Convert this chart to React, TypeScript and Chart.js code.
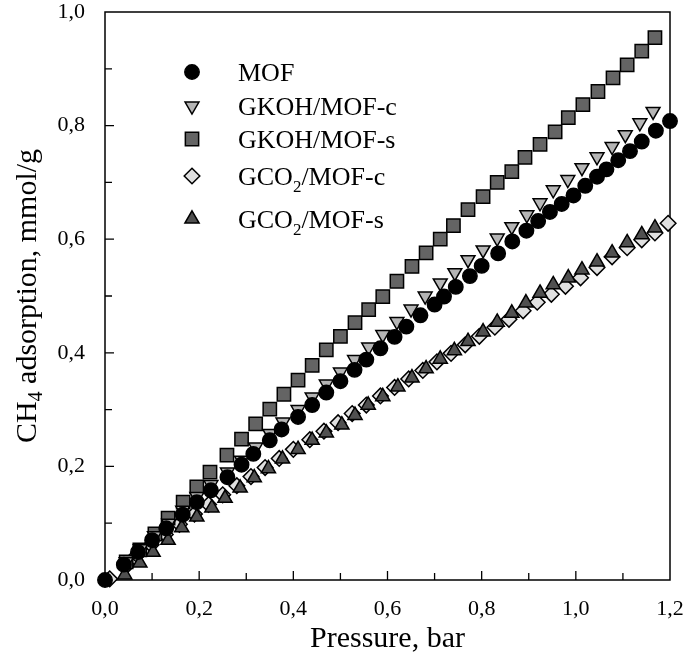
import React, { useEffect, useRef } from 'react';
import { Chart, registerables } from 'chart.js';

Chart.register(...registerables);

const FONT = "'Liberation Serif', 'Times New Roman', Times, serif";

// ---- Data (pressure in bar, CH4 adsorption in mmol/g) ----
const mofPressure = [0.00, 0.04, 0.07, 0.10, 0.13, 0.165, 0.195, 0.225, 0.26, 0.29, 0.315, 0.35, 0.375, 0.41, 0.44, 0.47, 0.50, 0.53, 0.555, 0.585, 0.615, 0.64, 0.67, 0.70, 0.72, 0.745, 0.775, 0.80, 0.835, 0.865, 0.895, 0.92, 0.945, 0.97, 0.995, 1.02, 1.045, 1.065, 1.09, 1.115, 1.14, 1.17, 1.20];
const mofValues = [0.000, 0.027, 0.049, 0.070, 0.091, 0.115, 0.137, 0.158, 0.181, 0.203, 0.222, 0.246, 0.265, 0.287, 0.308, 0.330, 0.350, 0.370, 0.388, 0.408, 0.428, 0.446, 0.466, 0.485, 0.499, 0.516, 0.535, 0.553, 0.575, 0.596, 0.615, 0.632, 0.648, 0.662, 0.677, 0.694, 0.710, 0.723, 0.739, 0.755, 0.772, 0.791, 0.808];

const gkohCPressure = [0.045, 0.075, 0.105, 0.135, 0.165, 0.195, 0.225, 0.26, 0.29, 0.32, 0.35, 0.378, 0.41, 0.44, 0.47, 0.50, 0.53, 0.56, 0.59, 0.62, 0.65, 0.68, 0.712, 0.743, 0.771, 0.803, 0.833, 0.864, 0.896, 0.924, 0.952, 0.983, 1.013, 1.045, 1.077, 1.105, 1.136, 1.164];
const gkohCValues = [0.032, 0.055, 0.078, 0.100, 0.123, 0.147, 0.168, 0.190, 0.211, 0.234, 0.258, 0.278, 0.300, 0.322, 0.345, 0.366, 0.388, 0.410, 0.432, 0.455, 0.477, 0.500, 0.523, 0.541, 0.564, 0.581, 0.602, 0.622, 0.643, 0.664, 0.687, 0.705, 0.726, 0.745, 0.763, 0.784, 0.805, 0.825];

const gkohSPressure = [0.045, 0.074, 0.106, 0.134, 0.166, 0.195, 0.223, 0.259, 0.29, 0.32, 0.35, 0.38, 0.41, 0.44, 0.47, 0.50, 0.531, 0.56, 0.59, 0.62, 0.652, 0.682, 0.712, 0.74, 0.771, 0.803, 0.833, 0.864, 0.892, 0.924, 0.956, 0.984, 1.015, 1.047, 1.079, 1.109, 1.14, 1.168];
const gkohSValues = [0.032, 0.053, 0.081, 0.109, 0.137, 0.164, 0.190, 0.220, 0.248, 0.275, 0.301, 0.327, 0.352, 0.378, 0.405, 0.429, 0.453, 0.476, 0.499, 0.526, 0.552, 0.576, 0.600, 0.624, 0.652, 0.675, 0.700, 0.719, 0.744, 0.767, 0.789, 0.814, 0.837, 0.860, 0.884, 0.907, 0.931, 0.955];

const gco2CPressure = [0.01, 0.047, 0.068, 0.098, 0.128, 0.158, 0.19, 0.22, 0.25, 0.28, 0.31, 0.34, 0.37, 0.40, 0.435, 0.465, 0.495, 0.525, 0.555, 0.585, 0.615, 0.645, 0.675, 0.705, 0.735, 0.765, 0.795, 0.828, 0.858, 0.888, 0.918, 0.948, 0.978, 1.01, 1.045, 1.077, 1.109, 1.14, 1.168, 1.196];
const gco2CValues = [0.002, 0.026, 0.044, 0.062, 0.080, 0.098, 0.116, 0.133, 0.150, 0.166, 0.182, 0.198, 0.214, 0.230, 0.247, 0.262, 0.277, 0.293, 0.308, 0.324, 0.339, 0.354, 0.369, 0.384, 0.399, 0.414, 0.429, 0.445, 0.459, 0.474, 0.489, 0.503, 0.517, 0.532, 0.550, 0.569, 0.585, 0.599, 0.611, 0.628];

const gco2SPressure = [0.042, 0.074, 0.102, 0.134, 0.163, 0.195, 0.227, 0.255, 0.287, 0.317, 0.347, 0.377, 0.41, 0.44, 0.47, 0.503, 0.531, 0.559, 0.59, 0.622, 0.652, 0.682, 0.712, 0.742, 0.771, 0.803, 0.833, 0.864, 0.894, 0.924, 0.952, 0.984, 1.013, 1.045, 1.077, 1.109, 1.14, 1.168];
const gco2SValues = [0.009, 0.030, 0.049, 0.070, 0.092, 0.111, 0.127, 0.144, 0.162, 0.180, 0.196, 0.213, 0.230, 0.246, 0.259, 0.273, 0.290, 0.308, 0.323, 0.340, 0.356, 0.372, 0.389, 0.404, 0.420, 0.437, 0.454, 0.470, 0.488, 0.505, 0.520, 0.532, 0.546, 0.560, 0.576, 0.594, 0.608, 0.620];

const xTickStep = 0.1;
const yTickStep = 0.1;
const xTitle = 'Pressure, bar';
const yTitleParts = ['CH', '4', ' adsorption, mmol/g'];

type SeriesStyle = { label: string[]; style: string; rotation: number; radius: number; fill: string; order: number };
const seriesStyles: SeriesStyle[] = [
  { label: ['MOF'], style: 'circle', rotation: 0, radius: 7.2, fill: '#000000', order: 0 },
  { label: ['GKOH/MOF-c'], style: 'triangle', rotation: 180, radius: 8, fill: '#b5b5b5', order: 1 },
  { label: ['GKOH/MOF-s'], style: 'rect', rotation: 0, radius: 9.4, fill: '#646464', order: 2 },
  { label: ['GCO', '2', '/MOF-c'], style: 'rectRot', rotation: 0, radius: 7.8, fill: '#e0e0e0', order: 4 },
  { label: ['GCO', '2', '/MOF-s'], style: 'triangle', rotation: 0, radius: 8.2, fill: '#505050', order: 3 },
];

const seriesData = [
  [mofPressure, mofValues],
  [gkohCPressure, gkohCValues],
  [gkohSPressure, gkohSValues],
  [gco2CPressure, gco2CValues],
  [gco2SPressure, gco2SValues],
];

function fmt(v: number) {
  return v.toFixed(1).replace('.', ',');
}
function isMajor(v: number) {
  return Math.round(v * 10) % 2 === 0;
}

function drawMarker(ctx: CanvasRenderingContext2D, s: SeriesStyle, x: number, y: number) {
  const r = s.radius;
  ctx.beginPath();
  if (s.style === 'circle') {
    ctx.arc(x, y, r, 0, Math.PI * 2);
  } else if (s.style === 'rect') {
    const h = Math.SQRT1_2 * r;
    ctx.rect(x - h, y - h, 2 * h, 2 * h);
  } else if (s.style === 'rectRot') {
    ctx.moveTo(x, y - r);
    ctx.lineTo(x + r, y);
    ctx.lineTo(x, y + r);
    ctx.lineTo(x - r, y);
    ctx.closePath();
  } else if (s.style === 'triangle') {
    let rad = (s.rotation * Math.PI) / 180;
    ctx.moveTo(x + Math.sin(rad) * r, y - Math.cos(rad) * r);
    rad += (2 * Math.PI) / 3;
    ctx.lineTo(x + Math.sin(rad) * r, y - Math.cos(rad) * r);
    rad += (2 * Math.PI) / 3;
    ctx.lineTo(x + Math.sin(rad) * r, y - Math.cos(rad) * r);
    ctx.closePath();
  }
  ctx.fillStyle = s.fill;
  ctx.fill();
  ctx.lineWidth = 1.5;
  ctx.strokeStyle = '#000';
  ctx.stroke();
}

const framePlugin = {
  id: 'frameTicks',
  beforeDatasetsDraw(chart: any) {
    const { ctx, chartArea: a, scales } = chart;
    const xs = scales.x;
    const ys = scales.y;
    ctx.save();
    ctx.strokeStyle = '#000';
    ctx.lineWidth = 1.5;
    ctx.strokeRect(a.left, a.top, a.right - a.left, a.bottom - a.top);
    ctx.lineWidth = 1.3;
    ctx.beginPath();
    xs.ticks.forEach((t: any) => {
      const px = xs.getPixelForValue(t.value);
      if (px <= a.left + 1 || px >= a.right - 1) return;
      const len = isMajor(t.value) ? 9 : 7;
      ctx.moveTo(px, a.bottom);
      ctx.lineTo(px, a.bottom - len);
    });
    ys.ticks.forEach((t: any) => {
      const py = ys.getPixelForValue(t.value);
      if (py <= a.top + 1 || py >= a.bottom - 1) return;
      const len = isMajor(t.value) ? 9 : 7;
      ctx.moveTo(a.left, py);
      ctx.lineTo(a.left + len, py);
    });
    ctx.stroke();
    ctx.restore();
  },
  afterDraw(chart: any) {
    const { ctx, chartArea: a } = chart;
    ctx.save();
    // Y axis title with subscript
    const big = `30px ${FONT}`;
    const small = `20px ${FONT}`;
    ctx.font = big;
    const w0 = ctx.measureText(yTitleParts[0]).width;
    const w2 = ctx.measureText(yTitleParts[2]).width;
    ctx.font = small;
    const w1 = ctx.measureText(yTitleParts[1]).width;
    const total = w0 + w1 + w2;
    const cy = (a.top + a.bottom) / 2;
    ctx.translate(36, cy);
    ctx.rotate(-Math.PI / 2);
    ctx.fillStyle = '#000';
    ctx.textBaseline = 'alphabetic';
    ctx.textAlign = 'left';
    let xx = -total / 2;
    ctx.font = big;
    ctx.fillText(yTitleParts[0], xx, 0);
    xx += w0;
    ctx.font = small;
    ctx.fillText(yTitleParts[1], xx, 6);
    xx += w1;
    ctx.font = big;
    ctx.fillText(yTitleParts[2], xx, 0);
    ctx.restore();

    // Legend
    ctx.save();
    const rowsY = [72, 106, 139, 176, 219];
    const markerX = 192;
    const textX = 238;
    seriesStyles.forEach((s, i) => {
      const y = rowsY[i];
      drawMarker(ctx, s, markerX, y);
      ctx.fillStyle = '#000';
      ctx.textAlign = 'left';
      ctx.textBaseline = 'alphabetic';
      let x = textX;
      const base = y + 9;
      s.label.forEach((part, k) => {
        const sub = s.label.length === 3 && k === 1;
        ctx.font = sub ? `17px ${FONT}` : `26px ${FONT}`;
        ctx.fillText(part, x, sub ? base + 7 : base);
        x += ctx.measureText(part).width;
      });
    });
    ctx.restore();
  },
};

function zeroPad(scale: any) {
  scale.paddingTop = 0;
  scale.paddingBottom = 0;
  scale.paddingLeft = 0;
  scale.paddingRight = 0;
}

export default function App() {
  const canvasRef = useRef<HTMLCanvasElement | null>(null);

  useEffect(() => {
    const canvas = canvasRef.current;
    if (!canvas) return;
    const datasets = seriesStyles.map((s, i) => ({
      label: s.label.join(''),
      data: seriesData[i][0].map((p, j) => ({ x: p, y: seriesData[i][1][j] })),
      showLine: false,
      pointStyle: s.style,
      pointRotation: s.rotation,
      pointRadius: s.radius,
      pointHoverRadius: s.radius,
      pointBackgroundColor: s.fill,
      pointBorderColor: '#000',
      pointBorderWidth: 1.5,
      backgroundColor: s.fill,
      borderColor: '#000',
      order: s.order,
      clip: false as any,
    }));

    const chart = new Chart(canvas, {
      type: 'scatter',
      data: { datasets },
      options: {
        responsive: false,
        animation: false,
        devicePixelRatio: 1,
        layout: { padding: { top: 12, right: 15, bottom: 0, left: 0 } },
        plugins: { legend: { display: false }, tooltip: { enabled: false } },
        scales: {
          x: {
            type: 'linear',
            position: 'bottom',
            min: 0,
            max: 1.2,
            grid: { display: false },
            border: { display: false },
            ticks: {
              stepSize: xTickStep,
              autoSkip: false,
              maxRotation: 0,
              padding: 10,
              color: '#000',
              font: { family: FONT, size: 22, lineHeight: 1 },
              callback: (v: any) => (isMajor(Number(v)) ? fmt(Number(v)) : ''),
            },
            title: {
              display: true,
              text: xTitle,
              color: '#000',
              font: { family: FONT, size: 30, lineHeight: 1.2 },
              padding: { top: 0, bottom: 4 },
            },
            afterFit: (scale: any) => {
              scale.height = 81;
              zeroPad(scale);
            },
          },
          y: {
            type: 'linear',
            min: 0,
            max: 1.0,
            grid: { display: false },
            border: { display: false },
            ticks: {
              stepSize: yTickStep,
              autoSkip: false,
              padding: 12,
              color: '#000',
              font: { family: FONT, size: 22, lineHeight: 1 },
              callback: (v: any) => (isMajor(Number(v)) ? fmt(Number(v)) : ''),
            },
            afterFit: (scale: any) => {
              scale.width = 105;
              zeroPad(scale);
            },
          },
        },
      },
      plugins: [framePlugin],
    });
    return () => chart.destroy();
  }, []);

  return (
    <div style={{ position: 'absolute', left: 0, top: 0, width: 685, height: 661, background: '#fff' }}>
      <canvas ref={canvasRef} width={685} height={661} style={{ display: 'block', width: 685, height: 661 }} />
    </div>
  );
}
